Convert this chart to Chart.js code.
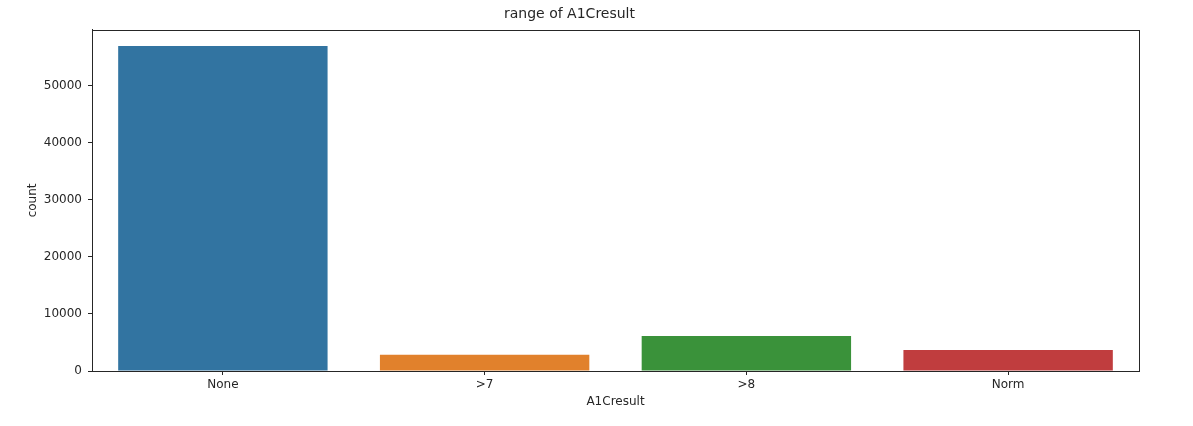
<!DOCTYPE html>
<html>
<head>
<meta charset="utf-8">
<script src="https://cdn.jsdelivr.net/npm/chart.js@4/dist/chart.umd.min.js"></script>
<style>
  html, body { margin: 0; padding: 0; background: #fff; }
  #wrap { width: 1193px; height: 426px; }
</style>
</head>
<body>
<div id="wrap"><canvas id="chart"></canvas></div>
<script>
const categories = ["None", ">7", ">8", "Norm"];
const counts = [57000, 2860, 6140, 3680];
const barColors = ["#3274a1", "#e1812c", "#3a923a", "#c03d3e"];
const yTicks = [0, 10000, 20000, 30000, 40000, 50000];

const ink = "#262626";
const font = { family: "'DejaVu Sans', sans-serif", size: 12 };

// matplotlib-style frame around the plot area
const frame = {
  id: "frame",
  afterDraw(chart) {
    const a = chart.chartArea, ctx = chart.ctx;
    ctx.save();
    ctx.strokeStyle = ink;
    ctx.lineWidth = 1;
    ctx.strokeRect(Math.round(a.left) + 0.5, Math.round(a.top) + 0.5,
      Math.round(a.right - a.left), Math.round(a.bottom - a.top));
    ctx.restore();
  }
};

new Chart(document.getElementById("chart"), {
  type: "bar",
  data: {
    labels: categories,
    datasets: [{
      data: counts,
      backgroundColor: barColors,
      borderWidth: 0,
      categoryPercentage: 0.8,
      barPercentage: 1
    }]
  },
  plugins: [frame],
  options: {
    responsive: true,
    maintainAspectRatio: false,
    animation: false,
    layout: { padding: { left: 0, right: 54, top: 0, bottom: 0 } },
    plugins: {
      legend: { display: false },
      tooltip: { enabled: false },
      title: {
        display: true,
        text: "range of A1Cresult",
        color: ink,
        font: { family: font.family, size: 14, weight: "normal" },
        padding: { top: 6, bottom: 7 }
      }
    },
    scales: {
      x: {
        afterFit: s => { s.height = 55; },
        grid: { offset: false, drawOnChartArea: false, drawTicks: true, tickLength: 4, color: ink },
        border: { display: true, color: ink },
        ticks: { color: ink, font: font, padding: 3 },
        title: { display: true, text: "A1Cresult", color: ink, font: font, padding: { top: 0, bottom: 17 } }
      },
      y: {
        min: 0,
        max: 59850,
        afterFit: s => { s.width = 92; },
        afterBuildTicks: s => { s.ticks = yTicks.map(v => ({ value: v })); },
        grid: { drawOnChartArea: false, drawTicks: true, tickLength: 4, color: ink },
        border: { display: true, color: ink },
        ticks: { color: ink, font: font, padding: 6, callback: v => String(v) },
        title: { display: true, text: "count", color: ink, font: font, padding: { top: 26, bottom: 0 } }
      }
    }
  }
});
</script>
</body>
</html>
